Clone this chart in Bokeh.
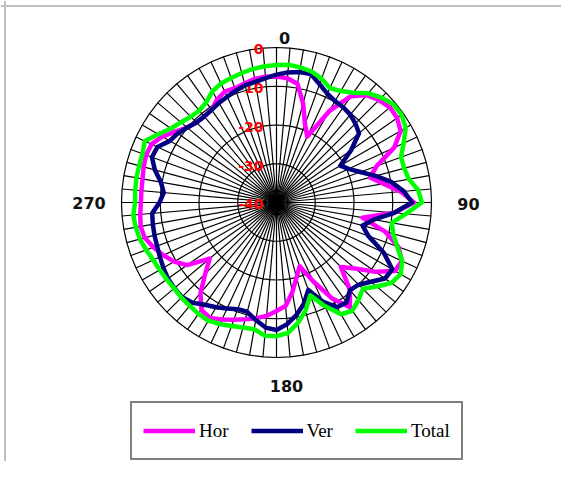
import numpy as np
from bokeh.plotting import figure
from bokeh.models import Range1d, Legend, LegendItem, Label, Span
from bokeh.core.properties import value
from bokeh.embed import file_html
from bokeh.resources import INLINE

# ---------------- data ----------------
angles = list(range(0, 360, 5))  # degrees, clockwise from top

hor = [-7.5, -7.8, -8.9, -13.5, -18.5, -21.2, -12.8, -6.5, -3.8, -2.6, -1.8, -2.0,
       -3.0, -6.5, -12.5, -15.0, -12.0, -7.8, -4.5, -9.5, -17.5, -11.0, -6.5, -4.3,
       -4.7, -8.8, -13.5, -16.5, -10.5, -7.0, -11.5, -17.5, -22.5, -20.0, -16.5, -13.2,
       -12.0, -10.6, -9.7, -8.8, -7.8, -6.7, -5.6, -6.2, -9.5, -14.0, -17.5, -11.8,
       -9.5, -7.8, -6.2, -4.8, -4.4, -4.7, -5.0, -5.0, -4.9, -4.5, -4.2, -4.4,
       -6.0, -8.1, -9.9, -10.8, -11.0, -10.8, -9.3, -8.4, -8.6, -8.2, -7.6, -7.4]

ver = [-7.0, -6.3, -5.8, -5.7, -7.5, -9.0, -9.8, -10.0, -10.4, -11.2, -12.2, -16.5,
       -21.0, -19.5, -17.0, -13.5, -9.8, -7.0, -5.0, -9.5, -14.5, -17.0, -14.8, -9.5,
       -5.5, -5.8, -8.2, -10.0, -10.5, -8.5, -8.8, -11.8, -16.0, -12.9, -10.5, -8.5,
       -7.1, -7.6, -9.2, -10.8, -10.7, -9.8, -8.8, -7.8, -6.2, -5.5, -5.6, -5.8,
       -6.3, -6.8, -7.2, -7.4, -7.6, -7.8, -9.8, -10.8, -9.7, -7.5, -5.8, -6.1,
       -8.2, -8.9, -9.9, -10.8, -11.0, -10.8, -10.3, -9.9, -9.3, -8.7, -8.4, -7.8]

total = [-4.5, -4.3, -4.6, -5.0, -6.0, -7.4, -6.8, -5.4, -3.2, -1.7, -0.6, -0.6,
         -1.5, -3.8, -5.8, -5.9, -5.3, -3.3, -2.5, -6.5, -9.8, -8.8, -6.9, -4.2,
         -3.0, -3.8, -6.3, -8.5, -7.1, -5.9, -6.7, -10.5, -14.5, -11.1, -8.4, -6.2,
         -5.5, -5.5, -6.8, -6.6, -6.1, -5.4, -4.8, -4.9, -5.2, -5.3, -5.5, -5.4,
         -5.2, -4.9, -4.2, -3.5, -3.1, -2.9, -3.5, -3.4, -3.3, -3.3, -3.2, -2.5,
         -4.8, -6.7, -7.8, -8.7, -9.0, -8.4, -6.9, -6.1, -5.8, -5.4, -5.0, -4.7]

series_names = ["Hor", "Ver", "Total"]
series_colors = ["#FF00FF", "#000080", "#00FF00"]

r_min, r_max = -40, 0
grid_values = [0, -10, -20, -30, -40]
grid_labels = ["0", "-10", "-20", "-30", "-40"]
cat_labels = ["0", "90", "180", "270"]

# ---------------- layout ----------------
W, H = 561, 461
CX, CY = 276.0, 202.0          # pixel position of the polar centre
SCALE = 3.875                  # pixels per dB

def px_to_data(px, py):
    return (px - CX) / SCALE, (CY - py) / SCALE

x0, y1 = px_to_data(0, 0)
x1, y0 = px_to_data(W, H)

p = figure(width=W, height=H, output_backend="svg", toolbar_location=None,
           x_range=Range1d(x0, x1), y_range=Range1d(y0, y1),
           x_axis_location=None, y_axis_location=None, min_border=0,
           background_fill_color="white", border_fill_color="white")
p.grid.visible = False
p.outline_line_color = None

def polar(vals, angs):
    u = np.asarray(vals, dtype=float) - r_min
    t = np.radians(np.asarray(angs, dtype=float))
    return u * np.sin(t), u * np.cos(t)

# spokes
spoke_xs, spoke_ys = [], []
for a in angles:
    xs, ys = polar([r_min, r_max], [a, a])
    spoke_xs.append(list(xs)); spoke_ys.append(list(ys))
p.multi_line(spoke_xs, spoke_ys, line_color="black", line_width=1.2)

# grid polygons
gx, gy = [], []
for g in grid_values[:-1]:
    xs, ys = polar([g] * (len(angles) + 1), angles + [angles[0]])
    gx.append(list(xs)); gy.append(list(ys))
p.multi_line(gx, gy, line_color="black", line_width=1.2)

# value-axis labels
lab_x = [px_to_data(263, 0)[0]] * len(grid_values)
lab_y = [g - r_min - 0.5 for g in grid_values]
p.text(x=lab_x, y=lab_y, text=grid_labels, text_color="#FF0000",
       text_font=value("DejaVu Sans"), text_font_style="bold", text_font_size="14px",
       text_align="right", text_baseline="middle")

# category labels
cat_pos = [(284, 37), (468, 203), (286, 385), (88.5, 202.5)]
for t, (px, py) in zip(cat_labels, cat_pos):
    lx, ly = px_to_data(px, py)
    p.add_layout(Label(x=lx, y=ly, text=t, text_font="DejaVu Sans", text_font_style="bold",
                       text_font_size="16px", text_color="#111111",
                       text_align="center", text_baseline="middle"))

# series
renderers = []
for vals, name, col in zip([hor, ver, total], series_names, series_colors):
    xs, ys = polar(list(vals) + [vals[0]], angles + [angles[0]])
    r = p.line(xs, ys, line_color=col, line_width=4.5, line_join="round")
    renderers.append((name, r))

legend = Legend(items=[LegendItem(label=n, renderers=[r]) for n, r in renderers],
                orientation="horizontal", location=(130, 1),
                glyph_width=52, glyph_height=33, label_standoff=4, spacing=22,
                padding=11, margin=0, border_line_color="black", border_line_width=2,
                label_text_font="Liberation Serif", label_text_font_size="19px",
                label_text_color="black", background_fill_color="white",
                background_fill_alpha=1)
p.add_layout(legend)

# outer frame (left, top)
fx, fy = px_to_data(4.5, 5.5)
p.add_layout(Span(location=fx, dimension="height", line_color="#C0C0C0", line_width=2))
p.add_layout(Span(location=fy, dimension="width", line_color="#C0C0C0", line_width=2))

open("out.html", "w").write(file_html(p, INLINE))
